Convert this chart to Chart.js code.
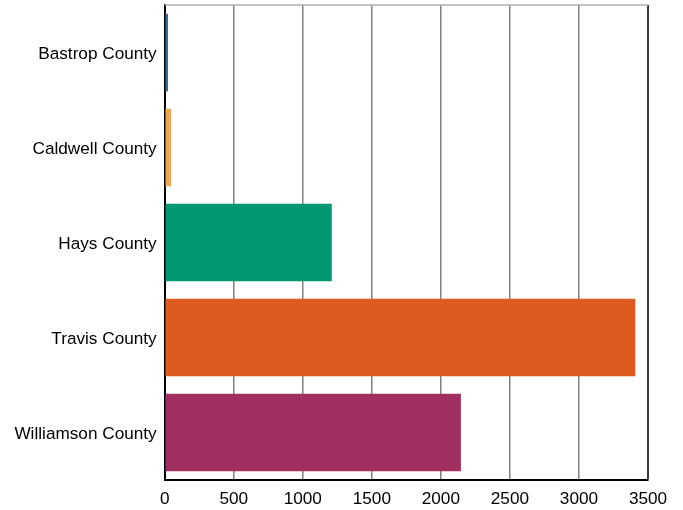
<!DOCTYPE html>
<html>
<head>
<meta charset="utf-8">
<script src="https://cdn.jsdelivr.net/npm/chart.js@4/dist/chart.umd.min.js"></script>
<style>
  html, body { margin: 0; padding: 0; background: #fff; }
  #wrap { width: 683px; height: 510px; }
</style>
</head>
<body>
<div id="wrap"><canvas id="c" width="683" height="510"></canvas></div>
<script>
const counties = ['Bastrop County', 'Caldwell County', 'Hays County', 'Travis County', 'Williamson County'];
const values = [24, 46, 1210, 3408, 2145];
const barColors = ['#346ca4', '#f2a654', '#009872', '#de5b1f', '#a22f62'];
const xTicks = [0, 500, 1000, 1500, 2000, 2500, 3000, 3500];

// thin grey line along the top of the plot area
const topFrame = {
  id: 'topFrame',
  afterDraw(chart) {
    const { ctx, chartArea: a } = chart;
    ctx.save();
    ctx.strokeStyle = '#b0b0b0';
    ctx.lineWidth = 1.5;
    ctx.beginPath();
    ctx.moveTo(a.left, a.top);
    ctx.lineTo(a.right, a.top);
    ctx.stroke();
    ctx.restore();
  }
};

new Chart(document.getElementById('c'), {
  type: 'bar',
  data: {
    labels: counties,
    datasets: [{
      data: values,
      backgroundColor: barColors,
      borderWidth: 0,
      categoryPercentage: 1,
      barPercentage: 0.818
    }]
  },
  options: {
    indexAxis: 'y',
    responsive: false,
    animation: false,
    layout: { padding: { top: 5, right: 35, left: 0, bottom: 0 } },
    plugins: { legend: { display: false }, tooltip: { enabled: false } },
    scales: {
      x: {
        min: 0,
        max: 3500,
        afterBuildTicks(scale) { scale.ticks = xTicks.map(v => ({ value: v })); },
        afterFit(scale) { scale.height = 30; scale.paddingLeft = 0; scale.paddingRight = 0; },
        border: { color: '#000', width: 2 },
        grid: {
          drawTicks: false,
          color: ctx => ctx.index === xTicks.length - 1 ? '#3a3a3a' : '#808080',
          lineWidth: ctx => ctx.index === xTicks.length - 1 ? 2 : 1.5
        },
        ticks: {
          padding: 9,
          color: '#000',
          font: { family: 'Liberation Sans, Arial, sans-serif', size: 17.2 },
          maxRotation: 0,
          callback: v => String(v)
        }
      },
      y: {
        afterFit(scale) { scale.width = 164.7; scale.paddingTop = 0; scale.paddingBottom = 0; },
        border: { color: '#000', width: 2 },
        grid: { display: false, drawTicks: false },
        ticks: {
          padding: 8,
          labelOffset: 2,
          color: '#000',
          font: { family: 'Liberation Sans, Arial, sans-serif', size: 17.2 }
        }
      }
    }
  },
  plugins: [topFrame]
});
</script>
</body>
</html>
